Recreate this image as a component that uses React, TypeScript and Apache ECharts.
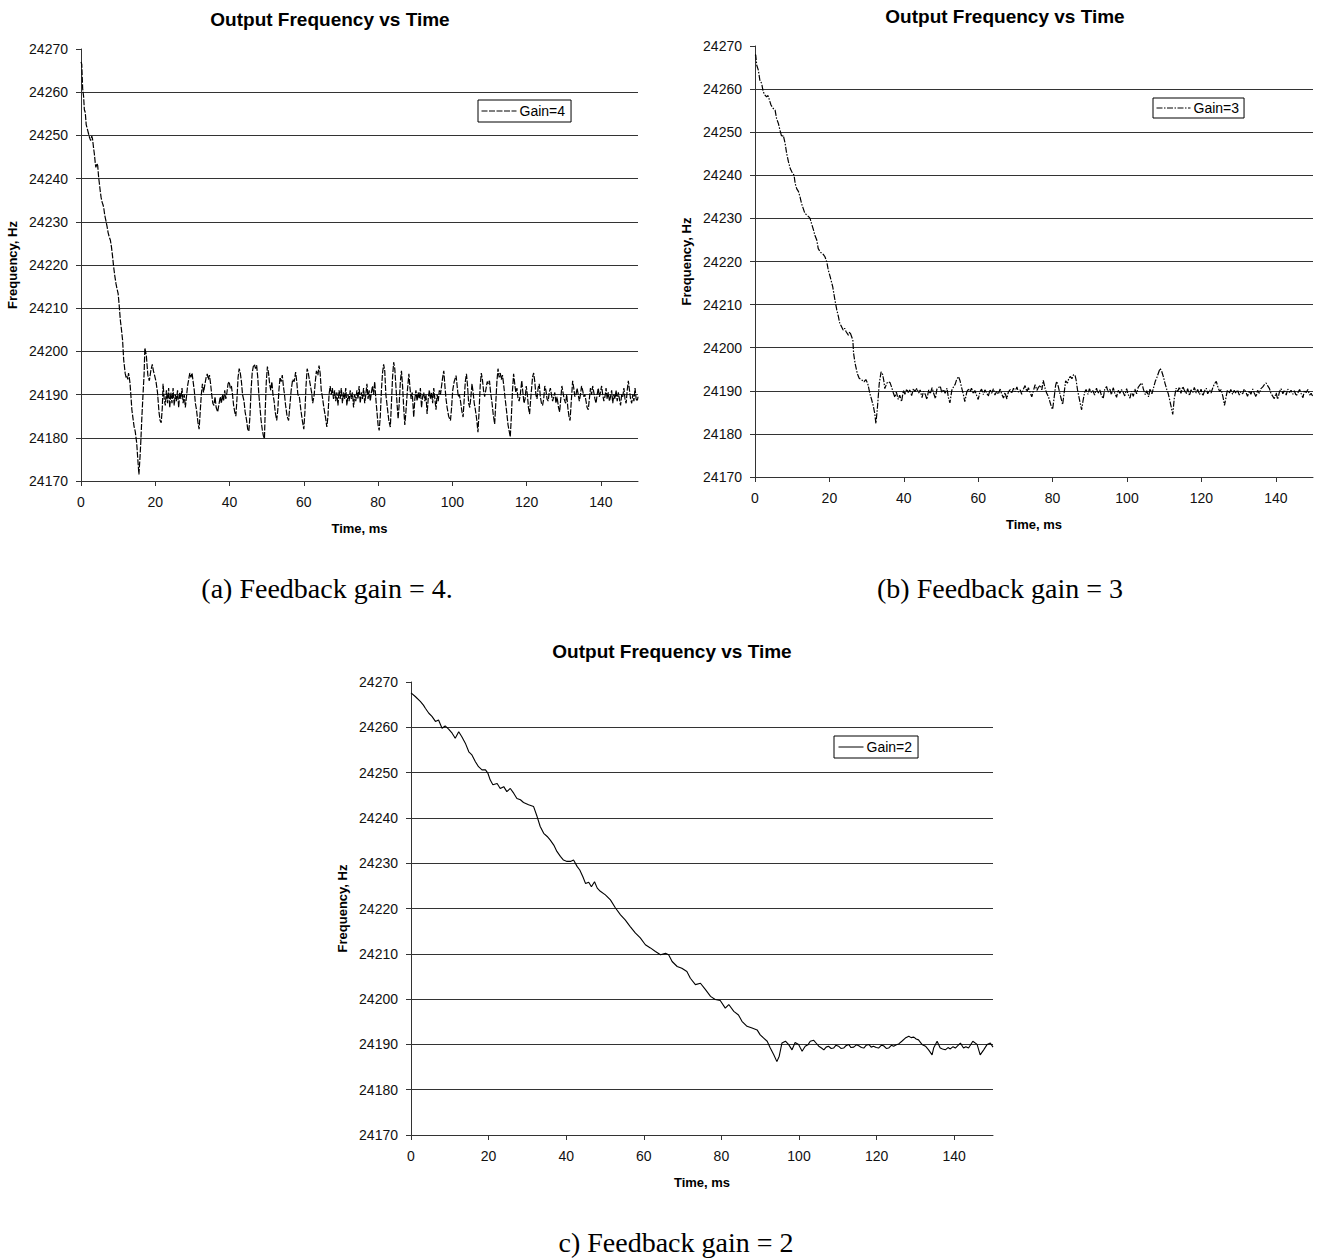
import React, { useEffect, useRef } from "react";
import * as echarts from "echarts";

// ---------- DATA (time in ms, frequency in Hz) ----------
const gain4Data: [number, number][] = [
  [0, 24267], [0.2, 24266.5], [0.45, 24260.8], [0.7, 24259], [0.9, 24256], [1.15, 24255.3], [1.4, 24252.5], [1.7, 24251.5],
  [2.0, 24250.5], [2.3, 24249.5], [2.6, 24248.8], [2.9, 24249.8], [3.1, 24249.2], [3.4, 24247], [3.6, 24245.7], [3.85, 24243.5],
  [4.0, 24242.6], [4.3, 24243.5], [4.5, 24243], [4.75, 24240.3], [5.0, 24238.5], [5.2, 24237], [5.4, 24235.7], [5.7, 24234.5],
  [5.9, 24234], [6.1, 24233.4], [6.4, 24231.5], [6.7, 24230.3], [7.0, 24229], [7.3, 24227.5], [7.6, 24226.5], [7.9, 24225.8],
  [8.2, 24224.2], [8.5, 24222], [8.8, 24219.5], [9.1, 24217.5], [9.4, 24215.8], [9.6, 24214.9], [10.0, 24213.4], [10.3, 24210.5],
  [10.6, 24207.2], [10.9, 24205], [11.2, 24202.6], [11.5, 24198], [11.7, 24196.5], [11.9, 24194.9], [12.2, 24193.8], [12.4, 24194.2],
  [12.6, 24193.5], [12.8, 24195], [13.0, 24194], [13.2, 24192.6], [13.5, 24189], [13.7, 24186.5], [14.0, 24184.5], [14.3, 24182.6],
  [14.6, 24181.5], [15.0, 24178.8], [15.3, 24175], [15.6, 24171.5], [15.9, 24175.7], [16.1, 24179], [16.4, 24184.9], [16.7, 24190],
  [17.0, 24194.9], [17.2, 24200.8], [17.6, 24199], [18.0, 24194.5], [18.4, 24193.2], [18.8, 24195.5], [19.2, 24197], [19.5, 24195.5],
  [19.8, 24194.5], [20.2, 24193], [20.6, 24190.5], [21.0, 24186], [21.3, 24184], [21.6, 24183.5], [21.9, 24187], [22.1, 24192.5],
  [22.4, 24189], [22.7, 24187.5], [23.0, 24191], [23.3, 24188], [23.6, 24191.5], [23.9, 24187], [24.2, 24190.5], [24.5, 24188],
  [24.8, 24191.5], [25.1, 24187.5], [25.4, 24190], [25.7, 24188.5], [26.0, 24191], [26.3, 24187], [26.6, 24190.5], [26.9, 24189],
  [27.2, 24191.5], [27.5, 24188], [27.8, 24190], [28.1, 24187], [28.4, 24189.5], [28.7, 24192], [29.0, 24193.5], [29.3, 24195],
  [29.6, 24194], [29.9, 24195], [30.2, 24193], [30.5, 24191], [30.8, 24188], [31.1, 24186.5], [31.5, 24183.5], [31.8, 24182],
  [32.1, 24186], [32.4, 24190], [32.7, 24192.5], [33.0, 24190.5], [33.3, 24192], [33.7, 24194], [34.0, 24194.8], [34.3, 24193.5],
  [34.6, 24194.5], [34.9, 24192.5], [35.2, 24190], [35.5, 24188], [35.8, 24187.5], [36.1, 24189.5], [36.4, 24187], [36.8, 24186],
  [37.2, 24188], [37.5, 24189.5], [37.8, 24188], [38.1, 24190], [38.4, 24188.5], [38.7, 24191], [39.0, 24189], [39.3, 24190.5],
  [39.6, 24192.5], [39.9, 24193], [40.2, 24191.5], [40.5, 24192], [40.8, 24190], [41.1, 24187.5], [41.4, 24186], [41.7, 24185],
  [42.0, 24189], [42.3, 24194], [42.6, 24196], [42.9, 24195], [43.2, 24193], [43.5, 24190], [43.9, 24188.5], [44.2, 24186],
  [44.6, 24184], [44.9, 24182], [45.2, 24181.5], [45.5, 24185], [45.8, 24191], [46.1, 24195], [46.4, 24196.5], [46.7, 24197],
  [47.0, 24196], [47.3, 24196.8], [47.6, 24194], [47.9, 24190], [48.2, 24187], [48.5, 24184], [48.8, 24182], [49.1, 24180.5],
  [49.4, 24179.8], [49.6, 24186], [49.9, 24193], [50.2, 24196.5], [50.5, 24195], [50.8, 24192.5], [51.1, 24191], [51.4, 24193],
  [51.7, 24190], [52.0, 24188.5], [52.3, 24186], [52.7, 24184], [53.0, 24186.5], [53.3, 24191], [53.6, 24194], [53.9, 24193],
  [54.2, 24194.5], [54.5, 24192], [54.8, 24190], [55.1, 24187.5], [55.5, 24185], [55.9, 24184], [56.2, 24187], [56.6, 24191],
  [57.0, 24193.5], [57.4, 24193], [57.8, 24195.2], [58.1, 24193], [58.4, 24190], [58.8, 24189.5], [59.2, 24186.5], [59.6, 24184],
  [60.0, 24182], [60.3, 24186], [60.6, 24192], [60.9, 24196], [61.2, 24195], [61.5, 24193.5], [61.8, 24192], [62.1, 24190.5],
  [62.4, 24188], [62.8, 24190], [63.1, 24193], [63.4, 24195.5], [63.8, 24194.5], [64.1, 24196.7], [64.4, 24195], [64.7, 24191],
  [65.0, 24189.5], [65.4, 24187], [65.8, 24185], [66.2, 24182.5], [66.5, 24185], [66.8, 24190], [67.1, 24192], [67.4, 24190],
  [67.7, 24191.5], [68.0, 24189], [68.3, 24191], [68.6, 24188.5], [68.9, 24190.5], [69.2, 24187.5], [69.5, 24191], [69.8, 24189],
  [70.1, 24191.5], [70.4, 24188], [70.7, 24190.5], [71.0, 24189], [71.3, 24191.5], [71.6, 24187.5], [71.9, 24190], [72.2, 24188.5],
  [72.5, 24191], [72.8, 24189], [73.1, 24190.5], [73.4, 24187], [73.7, 24190], [74.0, 24188.5], [74.3, 24191], [74.6, 24189],
  [74.9, 24192], [75.2, 24188], [75.5, 24190.5], [75.8, 24189], [76.1, 24191.5], [76.4, 24188], [76.7, 24190], [77.0, 24192.5],
  [77.3, 24189], [77.6, 24191], [77.9, 24188.5], [78.2, 24190.5], [78.5, 24192], [78.8, 24190], [79.1, 24193], [79.4, 24189],
  [79.7, 24186], [80.0, 24183], [80.3, 24181.7], [80.6, 24185], [80.9, 24191], [81.2, 24195], [81.5, 24197], [81.8, 24195.5],
  [82.1, 24190], [82.5, 24187], [82.9, 24184], [83.3, 24182.5], [83.6, 24188], [83.9, 24194], [84.2, 24197.5], [84.5, 24196],
  [84.8, 24192], [85.1, 24188], [85.4, 24184.4], [85.7, 24188], [86.0, 24193], [86.3, 24195.5], [86.6, 24192], [86.9, 24187],
  [87.2, 24183], [87.5, 24186], [87.9, 24191], [88.3, 24194.8], [88.6, 24191.5], [88.9, 24189], [89.2, 24190.5], [89.6, 24184.8],
  [89.9, 24189], [90.2, 24191], [90.5, 24188.5], [90.8, 24190.5], [91.1, 24189], [91.4, 24191.5], [91.7, 24187], [92.0, 24189.5],
  [92.3, 24190.5], [92.6, 24188.5], [92.9, 24190], [93.2, 24185.5], [93.5, 24189], [93.8, 24191], [94.1, 24189], [94.4, 24190.5],
  [94.7, 24188], [95.0, 24191.5], [95.3, 24189], [95.6, 24186.5], [95.9, 24190], [96.2, 24188.5], [96.5, 24191], [96.8, 24190],
  [97.1, 24192], [97.4, 24194], [97.7, 24195.5], [98.0, 24192], [98.3, 24189], [98.6, 24187], [99.0, 24185], [99.5, 24184],
  [99.8, 24187], [100.1, 24191], [100.5, 24193], [101.0, 24194.4], [101.3, 24192], [101.6, 24189.5], [101.9, 24190], [102.2, 24188.5],
  [102.6, 24186], [102.9, 24184.8], [103.2, 24189], [103.5, 24193], [103.8, 24194.8], [104.1, 24192], [104.4, 24188], [104.7, 24187],
  [105.0, 24189.5], [105.3, 24192.5], [105.6, 24190.5], [105.9, 24188], [106.2, 24186.5], [106.6, 24184], [106.9, 24181.3], [107.2, 24186],
  [107.5, 24192], [107.8, 24195], [108.1, 24193.5], [108.4, 24191], [108.7, 24189.5], [109.0, 24191], [109.4, 24193], [109.7, 24192.5],
  [110.0, 24193.2], [110.3, 24190.5], [110.7, 24188], [111.0, 24185.5], [111.4, 24183.2], [111.7, 24188], [112.0, 24193], [112.3, 24196],
  [112.6, 24194], [112.9, 24195], [113.2, 24193.5], [113.5, 24194.5], [113.8, 24192.5], [114.1, 24190], [114.5, 24187], [115.0, 24183],
  [115.6, 24180.2], [115.9, 24185], [116.2, 24191], [116.5, 24194.8], [116.8, 24192.5], [117.1, 24190.5], [117.4, 24191.5], [117.7, 24189],
  [118.0, 24188.5], [118.3, 24190], [118.7, 24193.2], [119.0, 24190.5], [119.3, 24188], [119.6, 24189], [119.9, 24192], [120.2, 24190],
  [120.5, 24187], [120.8, 24185.5], [121.2, 24190], [121.6, 24194], [121.9, 24195], [122.2, 24193], [122.5, 24190], [122.8, 24189],
  [123.1, 24191.5], [123.4, 24192.5], [123.7, 24189.5], [124.0, 24188], [124.3, 24187.5], [124.6, 24189], [124.9, 24192], [125.2, 24191],
  [125.5, 24189], [125.8, 24188.5], [126.1, 24190.5], [126.4, 24191.5], [126.7, 24190], [127.0, 24188.5], [127.3, 24189.5], [127.6, 24190.5],
  [127.9, 24188], [128.2, 24189.5], [128.6, 24187], [128.9, 24186], [129.2, 24189], [129.5, 24192], [129.8, 24190.5], [130.1, 24189],
  [130.5, 24188], [130.8, 24190], [131.1, 24187], [131.4, 24185], [131.7, 24184], [132.0, 24188], [132.4, 24193.2], [132.7, 24191.5],
  [133.0, 24189.5], [133.3, 24190], [133.6, 24191.5], [133.9, 24190], [134.2, 24188.5], [134.5, 24190], [134.8, 24192], [135.1, 24191],
  [135.4, 24189.5], [135.7, 24190], [136.0, 24188.5], [136.3, 24187], [136.6, 24186.5], [136.9, 24189], [137.2, 24191.5], [137.5, 24190],
  [137.8, 24192], [138.1, 24190.5], [138.4, 24189], [138.7, 24188], [139.0, 24190], [139.3, 24191.5], [139.6, 24189.5], [139.9, 24190.5],
  [140.2, 24192], [140.5, 24190], [140.8, 24188.5], [141.1, 24189.5], [141.4, 24191.5], [141.7, 24189], [142.0, 24190.5], [142.3, 24188.5],
  [142.6, 24189.5], [142.9, 24191], [143.2, 24188], [143.5, 24190], [143.8, 24189], [144.1, 24191], [144.4, 24188.5], [144.7, 24190.5],
  [145.0, 24189], [145.3, 24187.5], [145.6, 24190], [145.9, 24189.5], [146.2, 24191.5], [146.5, 24189], [146.8, 24188], [147.1, 24191],
  [147.4, 24193.2], [147.7, 24191], [148.0, 24189], [148.3, 24188], [148.6, 24190], [148.9, 24188.5], [149.2, 24191.5], [149.5, 24189],
  [149.8, 24188.5], [150.0, 24189.5],
];

const gain3Data: [number, number][] = [
  [0, 24268], [0.2, 24267.9], [0.45, 24265.6], [0.9, 24264.4], [1.3, 24262.1], [1.8, 24261.3], [2.2, 24259.4], [2.7, 24258.6],
  [3.1, 24258.2], [3.5, 24258.5], [3.9, 24257.4], [4.3, 24256.3], [4.9, 24255.5], [5.4, 24255.1], [5.8, 24253.2], [6.3, 24252],
  [6.7, 24250.5], [7.2, 24248.9], [7.6, 24249.3], [8.1, 24247.4], [8.5, 24245.1], [9.0, 24243.1], [9.5, 24241.5], [9.9, 24240.8],
  [10.5, 24240], [10.8, 24238.1], [11.2, 24236.9], [11.7, 24236.2], [12.1, 24235], [12.5, 24233.5], [13.0, 24232.2], [13.4, 24231.2],
  [13.9, 24230.8], [14.4, 24230.4], [14.8, 24230], [15.2, 24228.8], [15.7, 24227.4], [16.1, 24226.1], [16.6, 24225], [17.0, 24223],
  [17.5, 24222.3], [17.9, 24221.9], [18.4, 24221.6], [18.8, 24221.1], [19.3, 24219.9], [19.7, 24218], [20.2, 24216.5], [20.9, 24214.1],
  [21.5, 24211], [22.0, 24208.7], [22.4, 24207.3], [22.8, 24205.6], [23.2, 24205], [23.7, 24204.1], [24.1, 24204.5], [24.5, 24203.7],
  [25.1, 24202.9], [25.5, 24203.7], [26.0, 24202.5], [26.3, 24201.8], [26.5, 24198.7], [26.9, 24196.4], [27.5, 24194], [28.0, 24192.9],
  [28.7, 24192.5], [29.3, 24192.1], [29.8, 24192.6], [30.3, 24191.7], [30.9, 24189.3], [31.4, 24187.8], [31.8, 24186.5], [32.2, 24184.7],
  [32.5, 24182.4], [32.9, 24186], [33.4, 24191.7], [33.9, 24194.4], [34.3, 24193.8], [34.6, 24192.5], [34.9, 24190.5], [35.4, 24191.7],
  [35.8, 24192.1], [36.3, 24191.9], [36.7, 24190.9], [37.2, 24189.5], [37.6, 24188.5], [38.0, 24189.7], [38.5, 24188], [38.9, 24189],
  [39.4, 24187.5], [39.9, 24190.1], [40.3, 24189.2], [40.8, 24190.4], [41.2, 24189.6], [41.7, 24190.3], [42.1, 24188.9], [42.6, 24190.5],
  [43.0, 24189.8], [43.5, 24190.6], [44.0, 24189.5], [44.4, 24190.2], [44.9, 24188.4], [45.3, 24189.9], [45.8, 24189.1], [46.2, 24188],
  [46.7, 24190.2], [47.1, 24189.3], [47.6, 24190.7], [48.0, 24189.5], [48.5, 24188.2], [48.9, 24190.4], [49.4, 24190.8], [49.8, 24191.1],
  [50.2, 24189.6], [50.7, 24190.3], [51.1, 24189.4], [51.6, 24190.6], [52.0, 24188.4], [52.4, 24187.2], [52.9, 24190.1], [53.3, 24190.8],
  [53.8, 24191.5], [54.2, 24192.6], [54.7, 24193.3], [55.1, 24192.4], [55.5, 24190.9], [56.0, 24189.2], [56.4, 24187.5], [56.9, 24189.6],
  [57.3, 24190.5], [57.8, 24189.8], [58.2, 24190.6], [58.7, 24189.3], [59.1, 24190.1], [59.6, 24188.9], [60.0, 24188], [60.5, 24189.8],
  [60.9, 24190.4], [61.4, 24189.1], [61.8, 24190.2], [62.3, 24189.5], [62.7, 24188.7], [63.2, 24190.3], [63.6, 24189.4], [64.1, 24190.5],
  [64.5, 24189], [65.0, 24189.9], [65.4, 24189.2], [65.9, 24190.4], [66.3, 24189.3], [66.8, 24188.3], [67.2, 24189.6], [67.7, 24188.1],
  [68.1, 24189.7], [68.6, 24190.3], [69.0, 24189.4], [69.5, 24190.6], [69.9, 24189.8], [70.4, 24190.9], [70.8, 24189.7], [71.3, 24190.2],
  [71.7, 24189.2], [72.2, 24190.5], [72.6, 24191.2], [73.1, 24189.8], [73.5, 24190.7], [74.0, 24189.5], [74.4, 24188.6], [74.9, 24190.2],
  [75.3, 24191.4], [75.8, 24190.1], [76.2, 24190.8], [76.7, 24191.3], [77.1, 24190.2], [77.5, 24192.4], [78.0, 24190.5], [78.4, 24189.5],
  [78.9, 24188.6], [79.3, 24187.4], [79.7, 24186.2], [80.0, 24185.7], [80.4, 24188.3], [80.8, 24191.2], [81.1, 24192.2], [81.5, 24191.1],
  [81.9, 24189.6], [82.3, 24188.2], [82.7, 24186.8], [83.1, 24189.5], [83.5, 24192.3], [84.0, 24191.8], [84.4, 24193], [84.8, 24193.3],
  [85.2, 24192.8], [85.6, 24193.7], [86.0, 24193.7], [86.3, 24192.6], [86.7, 24190.2], [87.1, 24188.5], [87.5, 24186.8], [87.8, 24185.6],
  [88.2, 24187.8], [88.6, 24189.6], [89.0, 24190.3], [89.5, 24189.2], [89.9, 24190.5], [90.4, 24189.6], [90.8, 24190.1], [91.3, 24189],
  [91.8, 24190.6], [92.2, 24189.4], [92.7, 24190.2], [93.1, 24189], [93.6, 24188.2], [94.0, 24190.3], [94.5, 24191], [94.9, 24189.7],
  [95.4, 24190.4], [95.8, 24189.1], [96.3, 24190.7], [96.7, 24189.5], [97.2, 24188.5], [97.6, 24190.2], [98.1, 24189.4], [98.5, 24190.3],
  [99.0, 24189.6], [99.4, 24188.8], [99.9, 24190.5], [100.3, 24189.2], [100.8, 24188.3], [101.2, 24189.9], [101.7, 24188.7], [102.1, 24190.4],
  [102.6, 24189.3], [103.0, 24190.8], [103.5, 24191.4], [104.0, 24191.8], [104.4, 24190.4], [104.9, 24189.1], [105.3, 24190], [105.8, 24188.6],
  [106.2, 24190.5], [106.7, 24189.3], [107.1, 24190.6], [107.6, 24192.2], [108.0, 24193], [108.4, 24194], [108.9, 24195.2], [109.3, 24194.6],
  [109.8, 24193.2], [110.2, 24191.8], [110.7, 24190.3], [111.1, 24189.3], [111.6, 24187.4], [112.0, 24185.8], [112.3, 24184.5], [112.7, 24188.2],
  [113.2, 24190.6], [113.6, 24189.8], [114.1, 24190.9], [114.5, 24189.4], [115.0, 24191], [115.4, 24190.2], [115.9, 24189.3], [116.3, 24190.5],
  [116.8, 24188.9], [117.2, 24190.2], [117.7, 24189.6], [118.1, 24190.8], [118.6, 24189.5], [119.0, 24190.3], [119.5, 24189.1], [119.9, 24190.4],
  [120.4, 24188.8], [120.8, 24189.9], [121.3, 24190.6], [121.7, 24189.3], [122.2, 24190.2], [122.6, 24189.5], [123.1, 24190.8], [123.5, 24191.6],
  [124.0, 24192.2], [124.4, 24191], [124.9, 24189.8], [125.3, 24190.3], [125.8, 24188.6], [126.2, 24186.6], [126.6, 24188.4], [127.0, 24190.2],
  [127.5, 24189.4], [127.9, 24190.3], [128.4, 24189.2], [128.8, 24190.1], [129.3, 24189.4], [129.7, 24190.2], [130.2, 24189], [130.6, 24189.8],
  [131.1, 24189.3], [131.5, 24190.4], [132.0, 24189.6], [132.4, 24188.7], [132.9, 24190], [133.3, 24189.2], [133.8, 24190.4], [134.2, 24189.5],
  [134.7, 24188.6], [135.1, 24190.1], [135.6, 24189.4], [136.0, 24190.5], [136.5, 24190.9], [136.9, 24191.4], [137.4, 24191.8], [137.8, 24191.2],
  [138.3, 24190.5], [138.7, 24189.4], [139.2, 24188.7], [139.6, 24188.2], [140.1, 24189.5], [140.5, 24188], [141.0, 24189.8], [141.4, 24190.5],
  [141.9, 24189.3], [142.3, 24190.2], [142.8, 24189], [143.2, 24190.4], [143.7, 24189.6], [144.1, 24190.1], [144.6, 24189.2], [145.0, 24190],
  [145.5, 24188.8], [145.9, 24189.5], [146.4, 24190.3], [146.8, 24189.4], [147.3, 24188.4], [147.7, 24190.1], [148.2, 24189.6], [148.6, 24190.3],
  [149.1, 24189], [149.5, 24189.4], [150.0, 24188.6],
];

const gain2Data: [number, number][] = [
  [0, 24267.6], [1.1, 24266.8], [2.4, 24265.7], [3.2, 24264.9], [3.7, 24264.2], [4.6, 24263.1], [5.4, 24262.4], [6.3, 24261.3],
  [7.1, 24261.6], [8.0, 24259.8], [8.8, 24260.3], [9.7, 24259.6], [10.6, 24258.7], [11.4, 24257.6], [12.3, 24259], [13.1, 24257.9],
  [14.0, 24256.5], [14.9, 24254.6], [15.7, 24253.9], [16.6, 24252.4], [17.4, 24251.3], [18.3, 24250.6], [19.2, 24250.6], [19.8, 24249.9],
  [20.4, 24248.4], [21.1, 24247.3], [22.2, 24247.6], [23.0, 24246.5], [23.9, 24246.9], [24.7, 24245.8], [25.6, 24246.5], [26.5, 24245.4],
  [27.3, 24244.3], [28.2, 24244], [29.0, 24243.4], [30.3, 24242.9], [31.6, 24242.5], [32.5, 24240.3], [33.3, 24238.1], [34.2, 24236.6],
  [35.1, 24235.9], [35.9, 24235.1], [36.8, 24234], [37.6, 24232.6], [38.5, 24231.5], [39.3, 24230.7], [40.2, 24230.4], [41.1, 24230.4],
  [41.9, 24230.7], [42.8, 24229.3], [43.5, 24228.5], [44.3, 24227], [45.0, 24225.5], [45.8, 24225.8], [46.5, 24224.8], [47.3, 24225.9],
  [48.0, 24224.5], [48.8, 24223.8], [50.1, 24223], [51.4, 24221.9], [52.7, 24220.1], [54.0, 24218.6], [55.2, 24217.5], [56.5, 24216],
  [57.8, 24214.6], [59.1, 24213.5], [60.4, 24212], [61.7, 24211.3], [63.0, 24210.5], [64.3, 24209.8], [65.6, 24210.1], [66.4, 24209.8],
  [67.3, 24208.3], [68.6, 24207.2], [69.8, 24206.8], [71.1, 24206.1], [72.0, 24204.6], [73.3, 24203.2], [74.6, 24203.5], [75.9, 24202.1],
  [77.2, 24200.6], [78.4, 24199.9], [79.7, 24199.7], [81.0, 24198], [81.9, 24198.8], [83.2, 24197.3], [84.4, 24196.5], [85.3, 24195.1],
  [86.6, 24194], [87.9, 24193.6], [89.2, 24193.2], [90.0, 24192.1], [90.9, 24191.4], [91.8, 24190.7], [92.6, 24189.2], [93.5, 24187.7],
  [94.3, 24186.2], [94.9, 24187.4], [95.6, 24190.3], [96.5, 24190.7], [97.3, 24190], [98.2, 24188.8], [99.0, 24190.4], [99.9, 24190],
  [100.3, 24189.3], [100.8, 24188.5], [101.6, 24189.6], [102.3, 24189.9], [102.9, 24190.7], [103.8, 24190.9], [104.5, 24190.2], [105.1, 24189.6],
  [105.8, 24189.2], [106.4, 24188.8], [107.0, 24189.4], [107.6, 24189.6], [108.3, 24189.1], [108.9, 24189.2], [109.5, 24189.8], [110.2, 24189.6],
  [110.8, 24189.1], [111.5, 24189.2], [112.1, 24189.7], [112.8, 24190], [113.4, 24189.3], [114.1, 24189.4], [114.8, 24189.9], [115.4, 24189.7],
  [116.1, 24189.3], [116.7, 24189.2], [117.3, 24189.8], [118.0, 24190], [118.6, 24189.4], [119.2, 24189.6], [119.9, 24189.3], [120.5, 24189.2],
  [121.2, 24189.8], [121.8, 24189.7], [122.5, 24189.1], [123.1, 24189.2], [123.8, 24189.8], [124.4, 24189.6], [125.1, 24189.9], [125.7, 24190.1],
  [126.5, 24190.7], [127.4, 24191.4], [128.3, 24191.8], [128.9, 24191.5], [129.6, 24191.6], [130.2, 24191.2], [130.8, 24191], [131.7, 24190],
  [132.6, 24189.6], [133.4, 24188.8], [134.3, 24187.7], [134.7, 24189.2], [135.6, 24190.7], [136.4, 24189.2], [137.0, 24189], [137.7, 24188.8],
  [138.4, 24189.3], [139.0, 24189], [139.7, 24189.5], [140.3, 24189.2], [141.0, 24189.8], [141.6, 24190.3], [142.4, 24189.2], [143.0, 24189.5],
  [143.7, 24189.2], [144.8, 24190.7], [145.9, 24190], [146.7, 24187.7], [147.6, 24188.8], [148.5, 24190], [149.3, 24190.3], [150.0, 24189.4],
];

const chartTitle = "Output Frequency vs Time";
const xAxisName = "Time, ms";
const yAxisName = "Frequency, Hz";
const seriesNames = ["Gain=4", "Gain=3", "Gain=2"];
const captions = ["(a) Feedback gain = 4.", "(b) Feedback gain = 3", "c) Feedback gain = 2"];
const freqMin = 24170;
const freqMax = 24270;
const freqStep = 10;
const timeMin = 0;
const timeMax = 150;
const timeStep = 20;

// ---------- LAYOUT ----------
const panels = [
  {
    data: gain4Data,
    grid: { left: 81, top: 49, width: 557, height: 432 },
    titleX: 330, titleTop: 10,
    legend: { left: 478, top: 100, itemWidth: 35, padding: [4, 6, 4, 3] },
    lineType: [6, 1.5] as any,
    lineWidth: 1.2,
    caption: { x: 327, y: 588 },
  },
  {
    data: gain3Data,
    grid: { left: 755, top: 46, width: 558, height: 431 },
    titleX: 1005, titleTop: 7,
    legend: { left: 1153, top: 98, itemWidth: 34, padding: [3, 5, 3, 3] },
    lineType: [6, 1.5, 1.5, 1.5] as any,
    lineWidth: 1.2,
    caption: { x: 1000, y: 588 },
  },
  {
    data: gain2Data,
    grid: { left: 411, top: 682, width: 582, height: 453 },
    titleX: 672, titleTop: 642,
    legend: { left: 834, top: 736, itemWidth: 25, padding: [4, 6, 4, 4] },
    lineType: "solid" as any,
    lineWidth: 1.1,
    caption: { x: 676, y: 1242 },
  },
];

const SANS = "'Liberation Sans', Arial, sans-serif";
const SERIF = "'Liberation Serif', 'Times New Roman', serif";
const AXIS_COLOR = "#333";

export default function App() {
  const ref = useRef<HTMLDivElement>(null);

  useEffect(() => {
    if (!ref.current) return;
    const chart = echarts.init(ref.current, undefined, { renderer: "svg" });

    const option: any = {
      animation: false,
      backgroundColor: "#fff",
      title: panels.map((p) => ({
        text: chartTitle,
        left: p.titleX,
        top: p.titleTop,
        textAlign: "center",
        padding: 0,
        textStyle: { fontFamily: SANS, fontSize: 19, fontWeight: "bold", color: "#000" },
      })),
      legend: panels.map((p, i) => ({
        data: [seriesNames[i]],
        left: p.legend.left,
        top: p.legend.top,
        padding: p.legend.padding,
        itemWidth: p.legend.itemWidth,
        itemHeight: 14,
        borderColor: "#000",
        borderWidth: 1,
        borderRadius: 0,
        backgroundColor: "#fff",
        selectedMode: false,
        itemStyle: { opacity: 0, color: "rgba(0,0,0,0)", borderWidth: 0 },
        lineStyle: { width: 1 },
        textStyle: { fontFamily: SANS, fontSize: 14, color: "#000", padding: [0, 0, 0, -2] },
      })),
      grid: panels.map((p) => ({ ...p.grid, containLabel: false })),
      xAxis: panels.map((_, i) => ({
        type: "value",
        gridIndex: i,
        min: timeMin,
        max: timeMax,
        interval: timeStep,
        name: xAxisName,
        nameLocation: "middle",
        nameGap: 41,
        nameTextStyle: { fontFamily: SANS, fontSize: 13, fontWeight: "bold", color: "#000" },
        axisLine: { show: true, onZero: false, lineStyle: { color: AXIS_COLOR, width: 1 } },
        axisTick: { show: true, length: 5, lineStyle: { color: AXIS_COLOR, width: 1 } },
        axisLabel: {
          fontFamily: SANS, fontSize: 14, color: "#111", margin: 14,
          showMaxLabel: false,
          formatter: (v: number) => String(v),
        },
        splitLine: { show: false },
      })),
      yAxis: panels.map((_, i) => ({
        type: "value",
        gridIndex: i,
        min: freqMin,
        max: freqMax,
        interval: freqStep,
        name: yAxisName,
        nameLocation: "middle",
        nameGap: 62,
        nameTextStyle: { fontFamily: SANS, fontSize: 13, fontWeight: "bold", color: "#000" },
        axisLine: { show: true, onZero: false, lineStyle: { color: AXIS_COLOR, width: 1 } },
        axisTick: { show: true, length: 5, lineStyle: { color: AXIS_COLOR, width: 1 } },
        axisLabel: {
          fontFamily: SANS, fontSize: 14, color: "#111", margin: 13,
          formatter: (v: number) => String(v),
        },
        splitLine: {
          show: true, showMinLine: false, showMaxLine: false,
          lineStyle: { color: AXIS_COLOR, width: 1 },
        },
      })),
      series: panels.map((p, i) => ({
        type: "line",
        name: seriesNames[i],
        xAxisIndex: i,
        yAxisIndex: i,
        data: p.data,
        symbol: "none",
        showSymbol: false,
        silent: true,
        lineStyle: { color: "#000", width: p.lineWidth, type: p.lineType },
        itemStyle: { color: "#000" },
      })),
      graphic: panels.map((p, i) => ({
        type: "text",
        x: p.caption.x,
        y: p.caption.y,
        silent: true,
        style: {
          text: captions[i],
          fill: "#000",
          font: `28px ${SERIF}`,
          textAlign: "center",
          textVerticalAlign: "middle",
        },
      })),
    };

    chart.setOption(option);
    return () => chart.dispose();
  }, []);

  return (
    <div
      ref={ref}
      style={{ position: "absolute", left: 0, top: 0, width: 1324, height: 1258, background: "#fff" }}
    />
  );
}
